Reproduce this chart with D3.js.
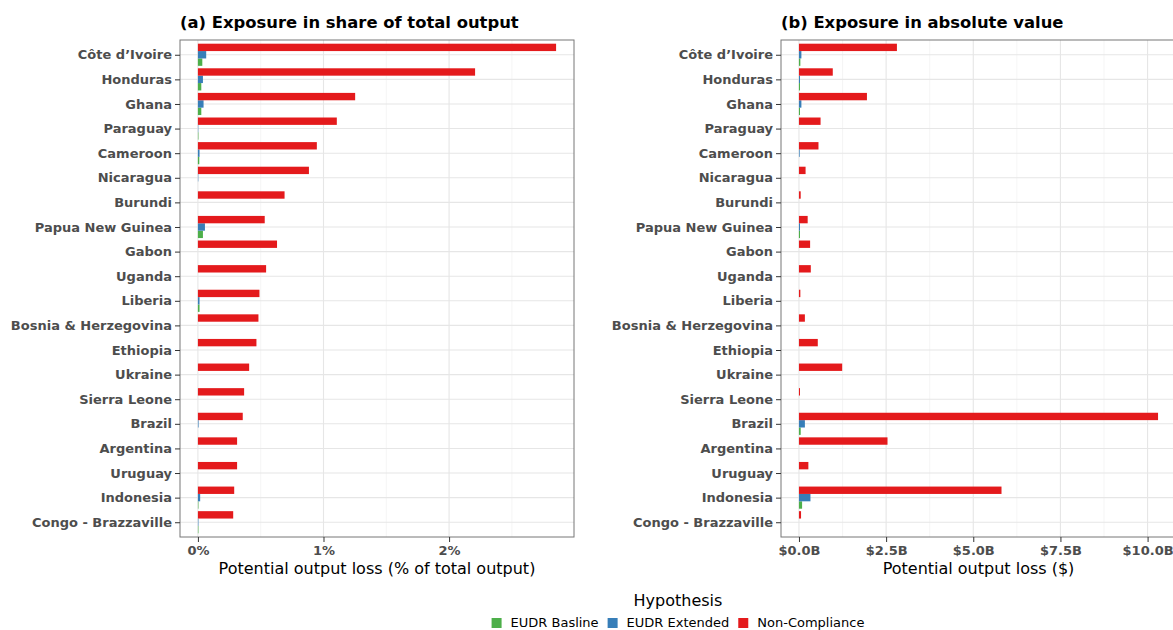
<!DOCTYPE html>
<html>
<head>
<meta charset="utf-8">
<script src="https://cdn.jsdelivr.net/npm/d3@7"></script>
<style>
  body { margin: 0; background: #fff; }
  text { font-family: "DejaVu Sans", sans-serif; }
</style>
</head>
<body>
<div id="chart"></div>
<script>
const countries = [
  'Côte d’Ivoire', 'Honduras', 'Ghana', 'Paraguay', 'Cameroon', 'Nicaragua',
  'Burundi', 'Papua New Guinea', 'Gabon', 'Uganda', 'Liberia',
  'Bosnia & Herzegovina', 'Ethiopia', 'Ukraine', 'Sierra Leone', 'Brazil',
  'Argentina', 'Uruguay', 'Indonesia', 'Congo - Brazzaville'
];
const hypotheses = ['EUDR Basline', 'EUDR Extended', 'Non-Compliance'];
const colors = ['#4DAF4A', '#377EB8', '#E41A1C'];

// (a) share of total output, in %
const shareBasline = [0.035, 0.027, 0.027, 0.004, 0.011, 0, 0, 0.040, 0, 0,
  0.013, 0, 0, 0, 0, 0, 0, 0, 0.004, 0.004];
const shareExtended = [0.066, 0.040, 0.045, 0.003, 0.013, 0.003, 0, 0.056, 0, 0,
  0.013, 0, 0, 0, 0, 0.005, 0, 0, 0.018, 0.004];
const shareNonCompliance = [2.852, 2.207, 1.252, 1.106, 0.947, 0.884, 0.690, 0.532,
  0.630, 0.543, 0.490, 0.482, 0.466, 0.408, 0.368, 0.357, 0.312, 0.312, 0.289, 0.281];

// (b) absolute value, in $ billions
const absBasline = [0.04, 0.03, 0.03, 0, 0, 0, 0, 0.03, 0, 0,
  0, 0, 0, 0, 0, 0.05, 0, 0, 0.09, 0];
const absExtended = [0.07, 0.03, 0.07, 0, 0.02, 0, 0, 0.03, 0, 0,
  0, 0, 0, 0, 0, 0.17, 0, 0, 0.33, 0];
const absNonCompliance = [2.81, 0.97, 1.95, 0.62, 0.56, 0.19, 0.05, 0.25, 0.32, 0.34,
  0.04, 0.17, 0.54, 1.24, 0.03, 10.30, 2.54, 0.27, 5.81, 0.06];

const shareTicks = [0, 1, 2];
const absTicks = [0, 2.5, 5, 7.5, 10];

const width = 1173;
const height = 630;
const plotTop = 40;
const plotBottom = 537;

const svg = d3.select('#chart').append('svg')
  .attr('width', width)
  .attr('height', height);

const y = d3.scalePoint()
  .domain(countries)
  .range([plotTop, plotBottom])
  .padding(0.6);
const step = y.step();

const dodge = d3.scaleBand()
  .domain(['Non-Compliance', 'EUDR Extended', 'EUDR Basline'])
  .range([-0.45 * step, 0.45 * step]);

const drawPanel = ({ left, right, title, axisTitle, ticks, format, series }) => {
  const g = svg.append('g');
  const max = d3.max(series.flat());
  const x = d3.scaleLinear()
    .domain([-0.05 * max, 1.05 * max])
    .range([left, right]);

  // grid
  const minor = d3.range(ticks.length).map(i => ticks[i] + (ticks[1] - ticks[0]) / 2)
    .filter(v => x(v) < right);
  g.append('g').selectAll('line').data(minor).enter().append('line')
    .attr('x1', d => x(d)).attr('x2', d => x(d))
    .attr('y1', plotTop).attr('y2', plotBottom)
    .attr('stroke', '#f0f0f0').attr('stroke-width', 0.7);
  g.append('g').selectAll('line').data(ticks).enter().append('line')
    .attr('x1', d => x(d)).attr('x2', d => x(d))
    .attr('y1', plotTop).attr('y2', plotBottom)
    .attr('stroke', '#e6e6e6').attr('stroke-width', 1.1);
  g.append('g').selectAll('line').data(countries).enter().append('line')
    .attr('x1', left).attr('x2', right)
    .attr('y1', d => y(d)).attr('y2', d => y(d))
    .attr('stroke', '#e6e6e6').attr('stroke-width', 1.1);

  // bars
  const rows = [];
  countries.forEach((c, i) => {
    hypotheses.forEach((h, j) => {
      rows.push({ country: c, hyp: h, color: colors[j], value: series[j][i] });
    });
  });
  g.append('g').selectAll('rect')
    .data(rows.filter(d => d.value > 0))
    .enter().append('rect')
    .attr('x', x(0))
    .attr('y', d => y(d.country) + dodge(d.hyp))
    .attr('width', d => x(d.value) - x(0))
    .attr('height', dodge.bandwidth())
    .attr('fill', d => d.color);

  // border
  g.append('rect')
    .attr('x', left).attr('y', plotTop)
    .attr('width', right - left).attr('height', plotBottom - plotTop)
    .attr('fill', 'none').attr('stroke', '#777').attr('stroke-width', 1);

  // axes
  const xAxis = g.append('g')
    .attr('transform', `translate(0,${plotBottom})`)
    .call(d3.axisBottom(x).tickValues(ticks).tickFormat(format).tickSize(5).tickPadding(4));
  const yAxis = g.append('g')
    .attr('transform', `translate(${left},0)`)
    .call(d3.axisLeft(y).tickSize(5).tickPadding(3));
  [xAxis, yAxis].forEach(a => {
    a.select('.domain').remove();
    a.selectAll('.tick line').attr('stroke', '#333');
    a.selectAll('.tick text')
      .attr('fill', '#4d4d4d')
      .style('font-size', '13px')
      .style('font-weight', 'bold');
  });

  g.append('text')
    .attr('x', left).attr('y', 28)
    .style('font-size', '16.4px').style('font-weight', 'bold')
    .attr('fill', '#000')
    .text(title);

  g.append('text')
    .attr('x', (left + right) / 2).attr('y', 574)
    .attr('text-anchor', 'middle')
    .style('font-size', '16px')
    .attr('fill', '#000')
    .text(axisTitle);
};

drawPanel({
  left: 180, right: 574,
  title: '(a) Exposure in share of total output',
  axisTitle: 'Potential output loss (% of total output)',
  ticks: shareTicks,
  format: d => d + '%',
  series: [shareBasline, shareExtended, shareNonCompliance]
});

drawPanel({
  left: 781, right: 1176,
  title: '(b) Exposure in absolute value',
  axisTitle: 'Potential output loss ($)',
  ticks: absTicks,
  format: d => '$' + d3.format('.1f')(d) + 'B',
  series: [absBasline, absExtended, absNonCompliance]
});

// legend
const legendCenter = 678;
svg.append('text')
  .attr('x', legendCenter).attr('y', 606)
  .attr('text-anchor', 'middle')
  .style('font-size', '16px')
  .attr('fill', '#000')
  .text('Hypothesis');

const legend = svg.append('g');
const items = legend.selectAll('g').data(hypotheses).enter().append('g');
items.append('rect')
  .attr('width', 10).attr('height', 10)
  .attr('y', 618)
  .attr('fill', (d, i) => colors[i]);
items.append('text')
  .attr('x', 19).attr('y', 627)
  .style('font-size', '13px')
  .attr('fill', '#000')
  .text(d => d);
let cursor = 0;
items.each(function () {
  const w = 19 + d3.select(this).select('text').node().getComputedTextLength();
  d3.select(this).attr('data-x', cursor);
  cursor += w + 9;
});
const total = cursor - 9;
items.attr('transform', function () {
  return `translate(${legendCenter - total / 2 + (+d3.select(this).attr('data-x'))},0)`;
});
</script>
</body>
</html>
